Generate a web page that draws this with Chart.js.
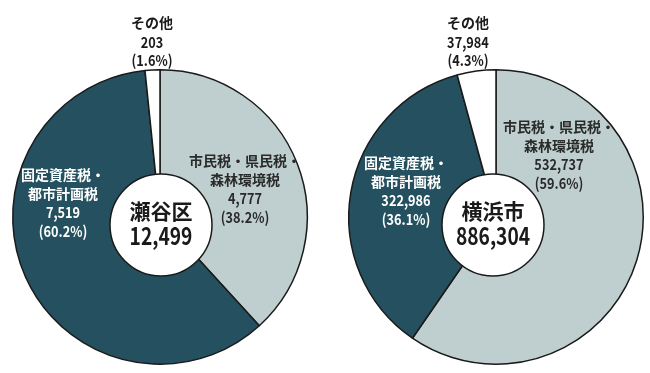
<!DOCTYPE html>
<html><head><meta charset="utf-8">
<script src="https://cdn.jsdelivr.net/npm/chart.js@4"></script>
<style>
html,body{margin:0;padding:0;background:#fff;width:650px;height:373px;overflow:hidden}
#l{position:absolute;left:0;top:0}
#r{position:absolute;left:325px;top:0}
</style></head><body>
<canvas id="l" width="320" height="373"></canvas>
<canvas id="r" width="325" height="373"></canvas>
<script>
// ---- data ----
const categories = ['市民税・県民税・森林環境税', '固定資産税・都市計画税', 'その他'];
const categoryLines = [['市民税・県民税・', '森林環境税'], ['固定資産税・', '都市計画税'], ['その他']];
const setayaName = '瀬谷区';
const setayaTotal = 12499;
const setayaValues = [4777, 7519, 203];
const setayaPercents = ['38.2', '60.2', '1.6'];
const yokohamaName = '横浜市';
const yokohamaTotal = 886304;
const yokohamaValues = [532737, 322986, 37984];
const yokohamaPercents = ['59.6', '36.1', '4.3'];

// ---- style ----
const sliceColors = ['#bfcfcf', '#24505f', '#ffffff'];
const textColors = ['#2a2a2a', '#ffffff', '#1a1a1a'];
const FONT = "'Noto Sans CJK JP', 'Noto Sans', sans-serif";

function fmt(n) { return n.toLocaleString('en-US'); }

function scaledText(ctx, t, x, y, sx) {
  ctx.save();
  ctx.translate(x, y);
  ctx.scale(sx, 1);
  ctx.fillText(t, 0, 0);
  ctx.restore();
}

function labelPlugin(name, total, values, percents, offsets, lineH, holeOff) {
  return {
    id: 'labels',
    afterDatasetsDraw(chart) {
      const ctx = chart.ctx;
      const arc = chart.getDatasetMeta(0).data[0];
      const cx = arc.x, cy = arc.y;
      ctx.save();
      // centre circle
      ctx.beginPath();
      ctx.arc(cx + holeOff[0], cy + holeOff[1], 51, 0, Math.PI * 2);
      ctx.fillStyle = '#ffffff';
      ctx.fill();
      ctx.lineWidth = 1.5;
      ctx.strokeStyle = '#1a1a1a';
      ctx.stroke();
      ctx.textAlign = 'center';
      ctx.textBaseline = 'middle';
      ctx.fillStyle = '#1a1a1a';
      ctx.font = 'bold 21px ' + FONT;
      ctx.fillText(name, cx + holeOff[0], cy - 6);
      ctx.font = 'bold 24px ' + FONT;
      scaledText(ctx, fmt(total), cx + holeOff[0], cy + 19, 0.8);
      // slice labels
      ctx.font = 'bold 14px ' + FONT;
      values.forEach((v, i) => {
        const x = cx + offsets[i][0];
        let y = cy + offsets[i][1];
        ctx.fillStyle = textColors[i];
        categoryLines[i].forEach(t => { ctx.fillText(t, x, y); y += lineH; });
        ctx.font = 'bold 15px ' + FONT;
        scaledText(ctx, fmt(v), x, y, 0.85); y += lineH;
        scaledText(ctx, '(' + percents[i] + '%)', x, y, 0.85);
        ctx.font = 'bold 14px ' + FONT;
      });
      ctx.restore();
    }
  };
}

function makePie(id, values, padding, plugin) {
  return new Chart(document.getElementById(id), {
    type: 'pie',
    data: {
      labels: categories,
      datasets: [{
        data: values,
        backgroundColor: sliceColors,
        borderColor: '#1a1a1a',
        borderWidth: 1.5
      }]
    },
    options: {
      responsive: false,
      devicePixelRatio: 1,
      animation: false,
      rotation: 0,
      layout: { padding: padding },
      plugins: { legend: { display: false }, tooltip: { enabled: false } }
    },
    plugins: [plugin]
  });
}

makePie('l', setayaValues, { left: 12, right: 12, top: 69, bottom: 8 },
  labelPlugin(setayaName, setayaTotal, setayaValues, setayaPercents,
    [[85, -56], [-97, -42], [-8, -194]], 18.8, [1, 8]));
makePie('r', yokohamaValues, { left: 22, right: 5, top: 69, bottom: 8 },
  labelPlugin(yokohamaName, yokohamaTotal, yokohamaValues, yokohamaPercents,
    [[63, -90], [-90, -54], [-28, -194]], 18.8, [-3, 8]));
</script>
</body></html>
